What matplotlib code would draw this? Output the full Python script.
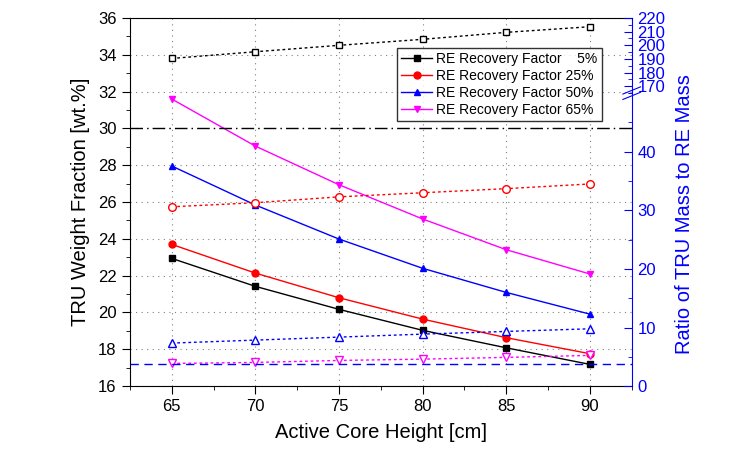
# TRU weight fraction and TRU/RE mass ratio vs active core height
import numpy as np
import matplotlib.pyplot as plt
from matplotlib.ticker import MultipleLocator

plt.rcParams['font.family'] = ['Liberation Sans', 'DejaVu Sans']

# data
height = [65, 70, 75, 80, 85, 90]
labels = ['RE Recovery Factor    5%', 'RE Recovery Factor 25%',
          'RE Recovery Factor 50%', 'RE Recovery Factor 65%']
colors = ['black', 'red', 'blue', 'magenta']
markers = ['s', 'o', '^', 'v']

# TRU weight fraction [wt.%] (left axis)
wf_5 = [22.94, 21.42, 20.17, 19.03, 18.08, 17.18]
wf_25 = [23.70, 22.14, 20.80, 19.64, 18.63, 17.76]
wf_50 = [27.96, 25.84, 23.99, 22.40, 21.09, 19.91]
wf_65 = [31.60, 29.04, 26.94, 25.08, 23.41, 22.09]

# ratio of TRU mass to RE mass (right axis)
ratio_5 = [190.4, 195.3, 200.0, 204.4, 209.5, 213.6]
ratio_25 = [30.6, 31.3, 32.3, 33.0, 33.7, 34.5]
ratio_50 = [7.34, 7.85, 8.36, 8.87, 9.33, 9.78]
ratio_65 = [3.87, 4.04, 4.38, 4.60, 4.90, 5.24]

wf_ref = 30.0     # black dash-dot line
ratio_ref = 3.7   # blue dashed line

fig = plt.figure(figsize=(7.38, 4.5), dpi=100)
L, B, W, H = 0.176, 0.142, 0.68, 0.818
brk = 0.793  # figure y of the right axis break
ax = fig.add_axes([L, B, W, H])
ax2 = fig.add_axes([L, B, W, brk - B], sharex=ax)
ax3 = fig.add_axes([L, brk, W, B + H - brk], sharex=ax)

# left axis
for wf, c, m, lab in zip([wf_5, wf_25, wf_50, wf_65], colors, markers, labels):
    ax.plot(height, wf, color=c, marker=m, ms=5, lw=1, label=lab)
ax.axhline(wf_ref, color='black', lw=1, ls=(0, (9, 3, 1, 3)))
ax.set_xlim(62.5, 92.5)
ax.set_ylim(16, 36)
ax.xaxis.set_major_locator(MultipleLocator(5))
ax.xaxis.set_minor_locator(MultipleLocator(2.5))
ax.yaxis.set_major_locator(MultipleLocator(2))
ax.yaxis.set_minor_locator(MultipleLocator(1))
ax.tick_params(which='major', length=6, labelsize=12, direction='out')
ax.tick_params(which='minor', length=3, direction='out')
ax.grid(True, which='major', color='gray', ls=(0, (1, 4)), lw=0.8)
ax.spines['right'].set_color('blue')
ax.set_xlabel('Active Core Height [cm]', fontsize=14.5, labelpad=6)
ax.set_ylabel('TRU Weight Fraction [wt.%]', fontsize=14.5, labelpad=6)

leg = ax.legend(loc='upper right', bbox_to_anchor=(0.94, 0.918), fontsize=10,
                frameon=True, fancybox=False, edgecolor='black', borderaxespad=0,
                handlelength=2.2, handletextpad=0.3, borderpad=0.3, labelspacing=0.2)
leg.get_frame().set_linewidth(1)

# right axis, lower and upper segments
for a in (ax2, ax3):
    a.patch.set_visible(False)
    for s in a.spines.values():
        s.set_visible(False)
    a.yaxis.tick_right()
    a.tick_params(axis='x', which='both', bottom=False, labelbottom=False)
    a.tick_params(axis='y', which='major', length=6, direction='in',
                  colors='blue', labelsize=12, pad=4)
    a.tick_params(axis='y', which='minor', length=3, direction='in', colors='blue')
    a.yaxis.set_minor_locator(MultipleLocator(5))

for r, c, m in zip([ratio_25, ratio_50, ratio_65], colors[1:], markers[1:]):
    ax2.plot(height, r, color=c, marker=m, ms=5.5, mfc='white', lw=1, ls=(0, (2, 2)))
ax2.axhline(ratio_ref, color='blue', lw=1, ls=(0, (6, 4)))
ax2.set_ylim(0, 50)
ax2.set_yticks([0, 10, 20, 30, 40])

ax3.plot(height, ratio_5, color='black', marker='s', ms=4.5, mfc='white', lw=1, ls=(0, (2, 2)))
ax3.set_ylim(165, 220)
ax3.set_yticks([170, 180, 190, 200, 210, 220])

# break marks on right spine
for dy in (-0.006, 0.006):
    fig.add_artist(plt.Line2D([L + W - 0.012, L + W + 0.012], [brk + dy - 0.008, brk + dy + 0.008],
                              color='blue', lw=0.8, transform=fig.transFigure))

fig.text(0.927, 0.524, 'Ratio of TRU Mass to RE Mass', rotation=90, color='blue',
         fontsize=14.5, ha='center', va='center')

plt.savefig('out.png', dpi=100)
